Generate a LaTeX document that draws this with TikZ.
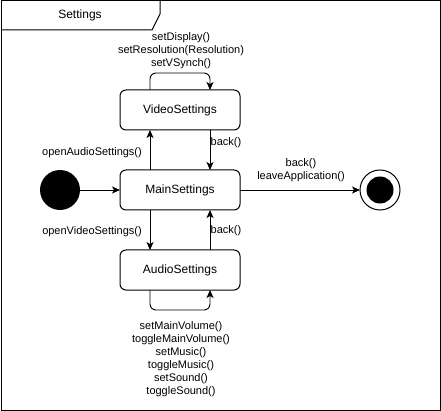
\documentclass[tikz,border=0pt]{standalone}
\usepackage{fontspec}
\setmainfont{Liberation Sans}
\usetikzlibrary{arrows.meta}
\begin{document}
\begin{tikzpicture}[x=1pt,y=-1pt,
  every node/.style={inner sep=0pt, outer sep=0pt},
  state/.style={draw, line width=1pt, rounded corners=6pt, minimum width=120pt, minimum height=40pt, font=\fontsize{12}{14}\selectfont},
  lbl/.style={font=\fontsize{11}{13}\selectfont, align=center},
  arr/.style={draw, line width=0.9pt, -{Stealth[width=7pt,length=8pt,inset=2pt]}},
  frm/.style={draw, line width=1pt}]
\useasboundingbox (0,0) rectangle (441,411);
% frame
\draw[frm] (1,1) rectangle (440,410);
\draw[frm] (1,30) -- (152,30) -- (160,14) -- (160,1);
\node[font=\fontsize{12}{14}\selectfont] (title) at (80,15) {Settings};
% states
\node[state] (video) at (180,110) {VideoSettings};
\node[state] (main) at (180,190) {MainSettings};
\node[state] (audio) at (180,270) {AudioSettings};
\node[circle, fill=black, minimum size=40pt] (init) at (60,190) {};
\node[circle, draw, line width=1pt, fill=white, minimum size=40pt] (final) at (380,190) {};
\node[circle, fill=black, minimum size=27pt] (finaldot) at (380,190) {};
% connectors
\draw[arr] (init) -- (main);
\draw[arr] (main) -- (final);
\draw[arr] ([xshift=-30pt]main.north) -- ([xshift=-30pt]video.south);
\draw[arr] ([xshift=30pt]video.south) -- ([xshift=30pt]main.north);
\draw[arr] ([xshift=-30pt]main.south) -- ([xshift=-30pt]audio.north);
\draw[arr] ([xshift=30pt]audio.north) -- ([xshift=30pt]main.south);
\draw[arr, rounded corners=6pt] ([xshift=-30pt]video.north) -- ++(0,-17) -- ++(60,0) -- ([xshift=30pt]video.north);
\draw[arr, rounded corners=6pt] ([xshift=-30pt]audio.south) -- ++(0,20) -- ++(60,0) -- ([xshift=30pt]audio.south);
% labels
\node[lbl] (lv) at (181,51) {setDisplay()\\setResolution(Resolution)\\setVSynch()};
\node[lbl] (la) at (181,359) {setMainVolume()\\toggleMainVolume()\\setMusic()\\toggleMusic()\\setSound()\\toggleSound()};
\node[lbl] (l1) at (92,153) {openAudioSettings()};
\node[lbl] (l2) at (92,232) {openVideoSettings()};
\node[lbl] (l3) at (226,143) {back()};
\node[lbl] (l4) at (226,231) {back()};
\node[lbl] (l5) at (301,170) {back()\\leaveApplication()};
\end{tikzpicture}
\end{document}
